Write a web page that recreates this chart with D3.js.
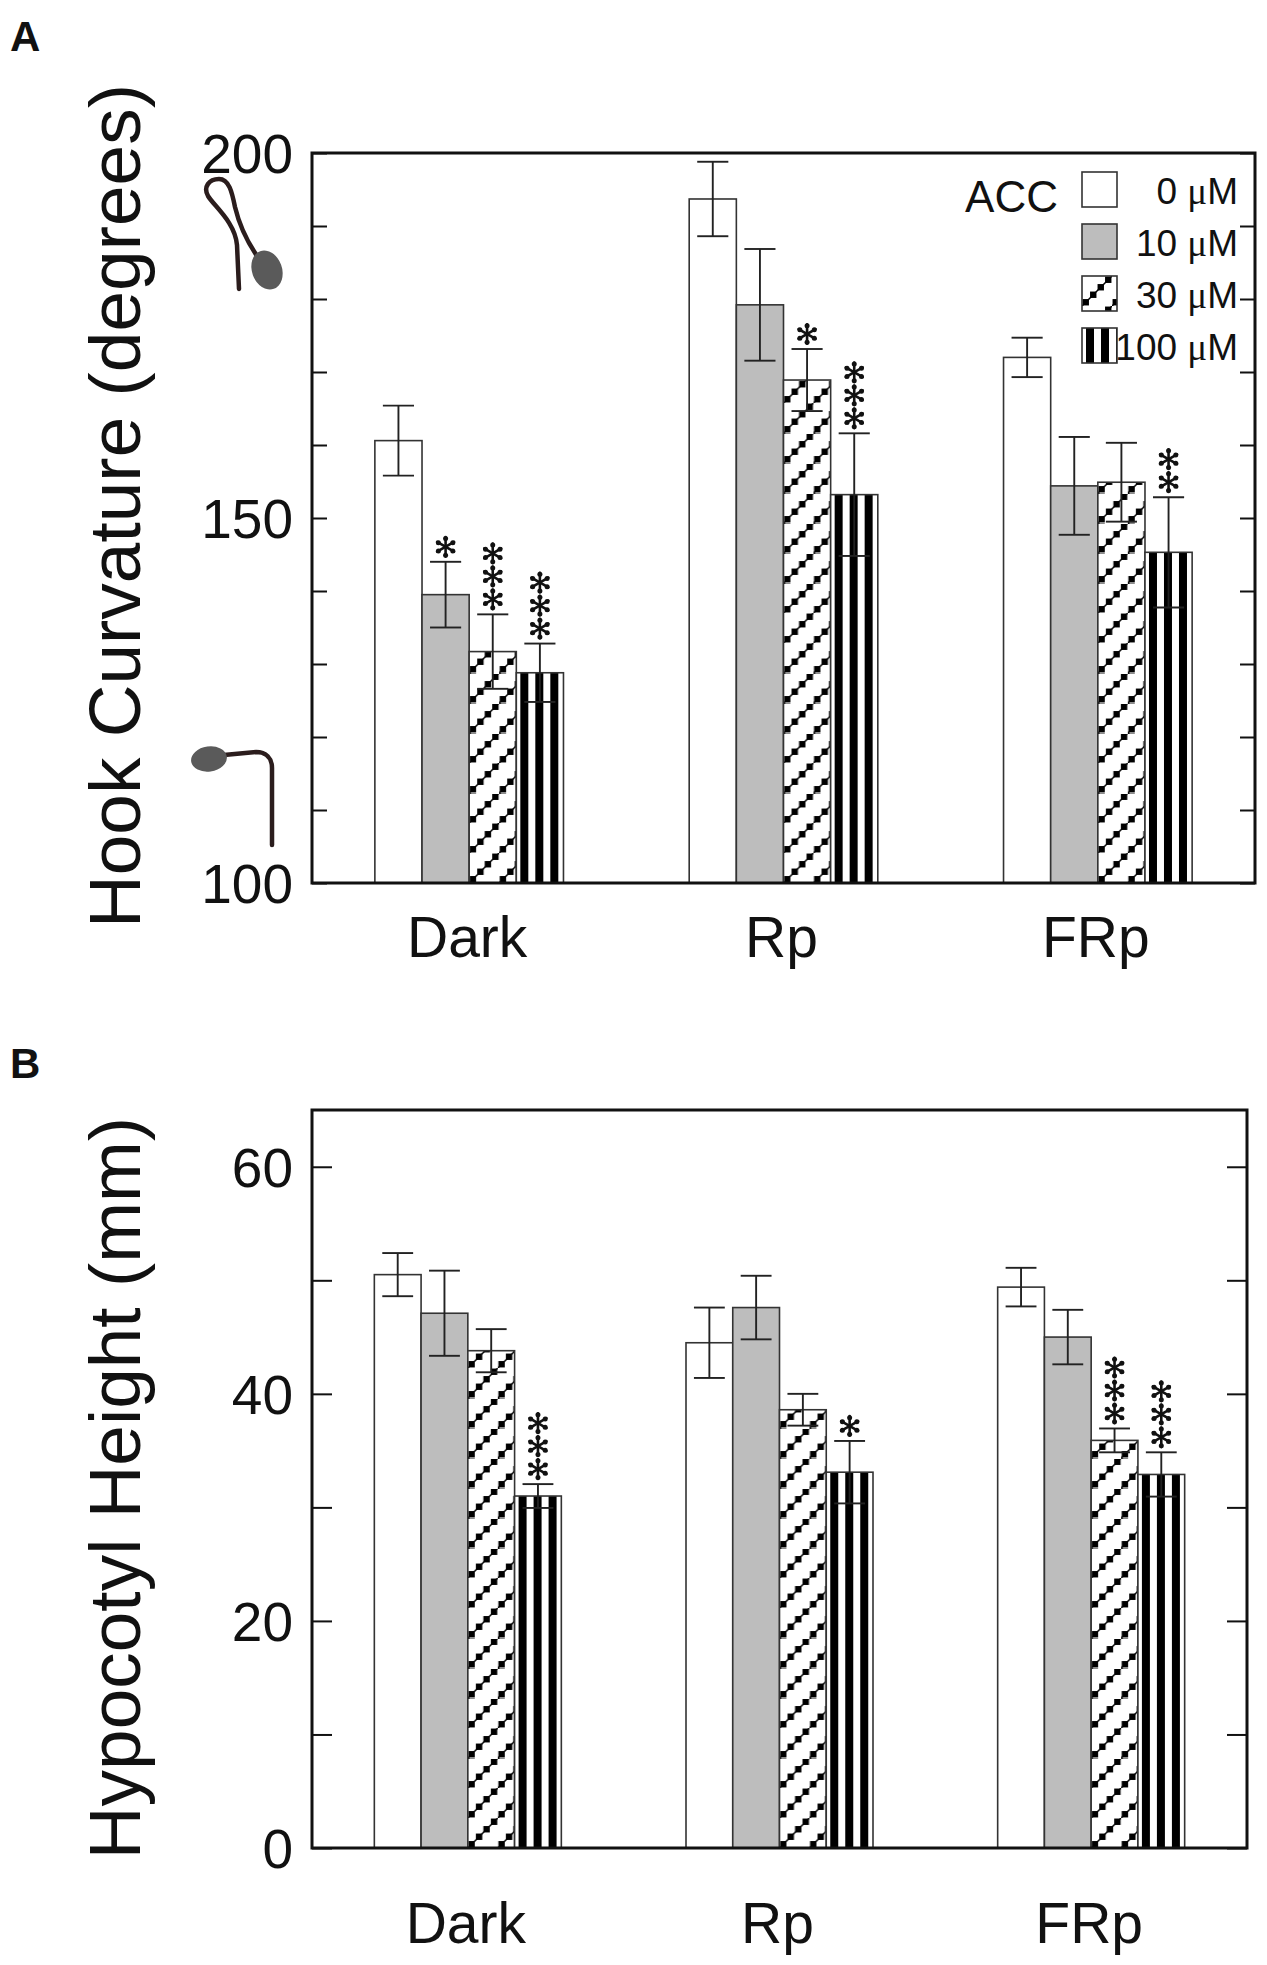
<!DOCTYPE html>
<html><head><meta charset="utf-8">
<script src="https://cdn.jsdelivr.net/npm/d3@7"></script>
<style>
body{margin:0;background:#fff}
text{font-family:"Liberation Sans",Arial,Helvetica,sans-serif;fill:#111}
</style>
</head><body>
<svg id="chart" width="1267" height="1965" xmlns="http://www.w3.org/2000/svg"></svg>
<script>
// ---------- data ----------
const categories = ["Dark", "Rp", "FRp"];
const concentrations = ["0", "10", "30", "100"];   // µM ACC

// Panel A: hook curvature (degrees)
const hook0   = [160.6, 193.7, 172.0];
const hook10  = [139.5, 179.2, 154.4];
const hook30  = [131.7, 168.9, 154.9];
const hook100 = [128.8, 153.2, 145.3];
const hookErr0   = [4.8, 5.1, 2.7];
const hookErr10  = [4.5, 7.65, 6.7];
const hookErr30  = [5.1, 4.25, 5.4];
const hookErr100 = [4.0, 8.4, 7.55];
const hookStars0   = [0, 0, 0];
const hookStars10  = [1, 0, 0];
const hookStars30  = [3, 1, 0];
const hookStars100 = [3, 3, 2];
const hookTicks = [100,110,120,130,140,150,160,170,180,190,200];
const hookTickLabels = [100,150,200];

// Panel B: hypocotyl height (mm)
const height0   = [50.5, 44.5, 49.4];
const height10  = [47.1, 47.6, 45.0];
const height30  = [43.8, 38.6, 35.9];
const height100 = [31.0, 33.1, 32.9];
const heightErr0   = [1.9, 3.1, 1.7];
const heightErr10  = [3.75, 2.8, 2.4];
const heightErr30  = [1.9, 1.4, 1.05];
const heightErr100 = [1.05, 2.75, 1.95];
const heightStars0   = [0, 0, 0];
const heightStars10  = [0, 0, 0];
const heightStars30  = [0, 0, 3];
const heightStars100 = [3, 1, 3];
const heightTicks = [0,10,20,30,40,50,60];
const heightTickLabels = [0,20,40,60];

// ---------- drawing ----------
const svg = d3.select("#chart");
const defs = svg.append("defs");
let patId = 0;

function stripePattern(x0){
  const id = "str" + (patId++);
  const p = defs.append("pattern").attr("id", id).attr("patternUnits","userSpaceOnUse")
    .attr("x", x0).attr("y", 0).attr("width", 15).attr("height", 15);
  p.append("rect").attr("width",15).attr("height",15).attr("fill","#fff");
  p.append("rect").attr("x",4).attr("width",8).attr("height",15).attr("fill","#000");
  return "url(#" + id + ")";
}
function checkerPattern(x0, y0){
  const id = "chk" + (patId++);
  const s = 30, st = 7.5, sq = 6.4;
  const p = defs.append("pattern").attr("id", id).attr("patternUnits","userSpaceOnUse")
    .attr("x", x0).attr("y", y0).attr("width", s).attr("height", s);
  p.append("rect").attr("width",s).attr("height",s).attr("fill","#fff");
  p.append("line").attr("x1",0).attr("y1",s).attr("x2",s).attr("y2",0)
    .attr("stroke","#000").attr("stroke-width",1.5);
  for (let k=0;k<4;k++){
    const cx = st*k + st/2, cy = s - st*k - st/2;
    p.append("rect").attr("x",cx-sq/2).attr("y",cy-sq/2).attr("width",sq).attr("height",sq).attr("fill","#000");
  }
  return "url(#" + id + ")";
}
function fillFor(j, x0, y0){
  if (j===0) return "#ffffff";
  if (j===1) return "#bdbdbd";
  if (j===2) return checkerPattern(x0, y0);
  return stripePattern(x0);
}
function asterisk(g, cx, cy){
  const r = 9.8;
  const a = g.append("g").attr("transform", `translate(${cx},${cy})`);
  [90, 30, 150].forEach(deg => {
    const t = deg*Math.PI/180, dx = r*Math.cos(t), dy = r*Math.sin(t);
    a.append("line").attr("x1",-dx).attr("y1",-dy).attr("x2",dx).attr("y2",dy)
      .attr("stroke","#111").attr("stroke-width",2.6).attr("stroke-linecap","round");
    a.append("circle").attr("cx",dx*0.85).attr("cy",dy*0.85).attr("r",2.5).attr("fill","#111");
    a.append("circle").attr("cx",-dx*0.85).attr("cy",-dy*0.85).attr("r",2.5).attr("fill","#111");
  });
}

function drawPanel(cfg){
  const g = svg.append("g");
  const y = d3.scaleLinear().domain(cfg.domain).range([cfg.bottom, cfg.top]);
  const x0 = d3.scaleBand().domain(categories).range([cfg.left, cfg.right]);
  const groupW = x0.bandwidth()*0.6;
  const x1 = d3.scaleBand().domain(concentrations).range([0, groupW]);
  const off = (x0.bandwidth()-groupW)/2;

  // bars
  cfg.series.forEach((vals, j) => {
    vals.forEach((v, i) => {
      const bx = x0(categories[i]) + off + x1(concentrations[j]);
      g.append("rect").attr("x", bx).attr("y", y(v))
        .attr("width", x1.bandwidth()).attr("height", y(cfg.domain[0]) - y(v))
        .attr("fill", fillFor(j, bx, cfg.bottom))
        .attr("stroke", "#333").attr("stroke-width", 1.6);
    });
  });
  // error bars + stars
  cfg.series.forEach((vals, j) => {
    vals.forEach((v, i) => {
      const e = cfg.errs[j][i];
      const cx = x0(categories[i]) + off + x1(concentrations[j]) + x1.bandwidth()/2;
      const capW = x1.bandwidth()*0.66;
      const eg = g.append("g").attr("stroke","#222").attr("stroke-width",1.9);
      eg.append("line").attr("x1",cx).attr("x2",cx).attr("y1",y(v+e)).attr("y2",y(v-e));
      eg.append("line").attr("x1",cx-capW/2).attr("x2",cx+capW/2).attr("y1",y(v+e)).attr("y2",y(v+e));
      eg.append("line").attr("x1",cx-capW/2).attr("x2",cx+capW/2).attr("y1",y(v-e)).attr("y2",y(v-e));
      const n = cfg.stars[j][i];
      for (let k=0;k<n;k++) asterisk(g, cx, y(v+e) - 15 - k*23);
    });
  });

  // axes (inward ticks both sides)
  const tickLen = cfg.tickLen;
  const la = d3.axisLeft(y).tickValues(cfg.ticks).tickSizeInner(-tickLen).tickSizeOuter(0)
    .tickPadding(19).tickFormat(d => cfg.tickLabels.includes(d) ? d : "");
  const lg = g.append("g").attr("transform", `translate(${cfg.left},0)`).call(la);
  lg.select(".domain").remove();
  lg.selectAll(".tick line").attr("stroke","#111").attr("stroke-width",2);
  lg.selectAll(".tick text").attr("font-size",55).attr("dy","0.36em")
    .attr("font-family","Liberation Sans, Arial, sans-serif").attr("fill","#111");
  const ra = d3.axisRight(y).tickValues(cfg.ticks).tickSizeInner(-tickLen).tickSizeOuter(0).tickFormat("");
  const rg = g.append("g").attr("transform", `translate(${cfg.right},0)`).call(ra);
  rg.select(".domain").remove();
  rg.selectAll(".tick line").attr("stroke","#111").attr("stroke-width",2);

  // frame
  g.append("rect").attr("x",cfg.left).attr("y",cfg.top)
    .attr("width",cfg.right-cfg.left).attr("height",cfg.bottom-cfg.top)
    .attr("fill","none").attr("stroke","#111").attr("stroke-width",3);

  // category labels
  categories.forEach(c => {
    g.append("text").attr("x", x0(c) + x0.bandwidth()/2 - 2).attr("y", cfg.catBaseline)
      .attr("text-anchor","middle").attr("font-size",57).text(c);
  });
  // y title
  g.append("text").attr("transform", `translate(${cfg.titleX},${cfg.titleY}) rotate(-90)`)
    .attr("text-anchor","middle").attr("font-size",73).text(cfg.title);
  // panel letter
  g.append("text").attr("x",10).attr("y",cfg.letterY).attr("font-size",42)
    .attr("font-weight","bold").text(cfg.letter);
  return {g, y, x0};
}

const A = drawPanel({
  letter:"A", letterY:51,
  left:312, right:1255, top:153, bottom:883,
  domain:[100,200], ticks:hookTicks, tickLabels:hookTickLabels, tickLen:15,
  series:[hook0, hook10, hook30, hook100],
  errs:[hookErr0, hookErr10, hookErr30, hookErr100],
  stars:[hookStars0, hookStars10, hookStars30, hookStars100],
  catBaseline:957, title:"Hook Curvature (degrees)", titleX:140, titleY:506
});
const B = drawPanel({
  letter:"B", letterY:1078,
  left:312, right:1247, top:1110, bottom:1848,
  domain:[0,65], ticks:heightTicks, tickLabels:heightTickLabels, tickLen:20,
  series:[height0, height10, height30, height100],
  errs:[heightErr0, heightErr10, heightErr30, heightErr100],
  stars:[heightStars0, heightStars10, heightStars30, heightStars100],
  catBaseline:1943, title:"Hypocotyl Height (mm)", titleX:140, titleY:1488
});

// legend (panel A)
const lg = A.g.append("g");
lg.append("text").attr("x",1058).attr("y",212).attr("text-anchor","end").attr("font-size",44).text("ACC");
concentrations.forEach((c, j) => {
  const sx = 1082, sy = 172 + j*52;
  lg.append("rect").attr("x",sx).attr("y",sy).attr("width",35).attr("height",35)
    .attr("fill", fillFor(j, sx, sy)).attr("stroke","#333").attr("stroke-width",1.6);
  const t = lg.append("text").attr("x",1238).attr("y",sy+32).attr("text-anchor","end").attr("font-size",37);
  t.append("tspan").text(c + " ");
  t.append("tspan").attr("font-family","Liberation Serif, Times New Roman, serif").text("\u03BC");
  t.append("tspan").text("M");
});

// seedling icons beside panel A y axis
const ic = A.g.append("g");
ic.append("path")
  .attr("d","M239,289 L237,245 C235,222 214,206 208,196 C203,187 209,179 219,179 C229,179 232,192 235,207 C240,228 250,247 262,263")
  .attr("fill","none").attr("stroke","#2b1d1d").attr("stroke-width",4.5).attr("stroke-linecap","round");
ic.append("ellipse").attr("cx",267).attr("cy",270).attr("rx",15).attr("ry",20)
  .attr("transform","rotate(-20,267,270)").attr("fill","#5a5a5a");
ic.append("path")
  .attr("d","M224,755 L256,752 C266,752 272,758 272,768 L272,845")
  .attr("fill","none").attr("stroke","#2b1d1d").attr("stroke-width",4.5).attr("stroke-linecap","round");
ic.append("ellipse").attr("cx",209).attr("cy",759).attr("rx",18).attr("ry",12.5)
  .attr("transform","rotate(-8,209,759)").attr("fill","#5a5a5a");
</script>
</body></html>
